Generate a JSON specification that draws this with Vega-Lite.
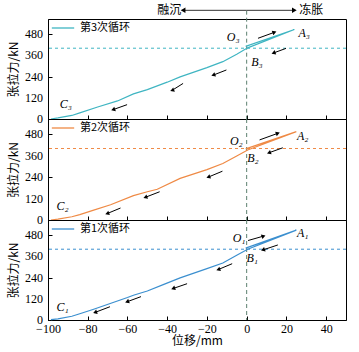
{
  "$schema": "https://vega.github.io/schema/vega-lite/v6.json",
  "padding": {"left": 7, "top": 3, "right": 12, "bottom": 4},
  "background": "white",
  "spacing": 0,
  "bounds": "flush",
  "config": {
    "view": {"stroke": "black", "strokeWidth": 1},
    "axis": {
      "grid": false,
      "labelFont": "Liberation Serif",
      "labelFontSize": 12,
      "labelColor": "black",
      "labelFlush": false,
      "titleFont": "Noto Sans CJK SC",
      "titleFontSize": 12,
      "titleFontWeight": "normal",
      "titleColor": "black",
      "domainColor": "black",
      "tickColor": "black",
      "tickSize": -4,
      "labelPadding": 7
    },
    "legend": {
      "orient": "none",
      "legendX": 3,
      "legendY": -3,
      "padding": 0,
      "symbolType": "stroke",
      "symbolSize": 500,
      "symbolStrokeWidth": 1.3,
      "labelOffset": 5,
      "labelFont": "Noto Sans CJK SC",
      "labelFontSize": 11,
      "labelColor": "black",
      "title": null
    }
  },
  "datasets": {
    "curve": [
      {"cycle": "第3次循环", "k": 1, "x": -0.5, "y": 410},
      {"cycle": "第3次循环", "k": 2, "x": 24, "y": 506},
      {"cycle": "第3次循环", "k": 3, "x": 0.5, "y": 402},
      {"cycle": "第3次循环", "k": 4, "x": -5, "y": 366},
      {"cycle": "第3次循环", "k": 5, "x": -12, "y": 324},
      {"cycle": "第3次循环", "k": 6, "x": -20, "y": 290},
      {"cycle": "第3次循环", "k": 7, "x": -33.5, "y": 238},
      {"cycle": "第3次循环", "k": 8, "x": -40, "y": 208},
      {"cycle": "第3次循环", "k": 9, "x": -50, "y": 166},
      {"cycle": "第3次循环", "k": 10, "x": -57, "y": 142},
      {"cycle": "第3次循环", "k": 11, "x": -65, "y": 102},
      {"cycle": "第3次循环", "k": 12, "x": -75, "y": 68},
      {"cycle": "第3次循环", "k": 13, "x": -84, "y": 35},
      {"cycle": "第3次循环", "k": 14, "x": -88, "y": 20},
      {"cycle": "第3次循环", "k": 15, "x": -95, "y": 6},
      {"cycle": "第3次循环", "k": 16, "x": -98.5, "y": 0},
      {"cycle": "第2次循环", "k": 1, "x": -0.5, "y": 398},
      {"cycle": "第2次循环", "k": 2, "x": 25, "y": 494},
      {"cycle": "第2次循环", "k": 3, "x": 0.5, "y": 392},
      {"cycle": "第2次循环", "k": 4, "x": -5, "y": 358},
      {"cycle": "第2次循环", "k": 5, "x": -12, "y": 316},
      {"cycle": "第2次循环", "k": 6, "x": -20, "y": 282},
      {"cycle": "第2次循环", "k": 7, "x": -33.5, "y": 233},
      {"cycle": "第2次循环", "k": 8, "x": -45, "y": 172},
      {"cycle": "第2次循环", "k": 9, "x": -50, "y": 158},
      {"cycle": "第2次循环", "k": 10, "x": -57, "y": 136},
      {"cycle": "第2次循环", "k": 11, "x": -68.5, "y": 85},
      {"cycle": "第2次循环", "k": 12, "x": -77, "y": 55},
      {"cycle": "第2次循环", "k": 13, "x": -84, "y": 30},
      {"cycle": "第2次循环", "k": 14, "x": -88, "y": 18},
      {"cycle": "第2次循环", "k": 15, "x": -95, "y": 5},
      {"cycle": "第2次循环", "k": 16, "x": -98.5, "y": 0},
      {"cycle": "第1次循环", "k": 1, "x": -0.5, "y": 406},
      {"cycle": "第1次循环", "k": 2, "x": 25, "y": 508},
      {"cycle": "第1次循环", "k": 3, "x": 0.5, "y": 400},
      {"cycle": "第1次循环", "k": 4, "x": -5, "y": 366},
      {"cycle": "第1次循环", "k": 5, "x": -12, "y": 322},
      {"cycle": "第1次循环", "k": 6, "x": -20, "y": 290},
      {"cycle": "第1次循环", "k": 7, "x": -33.5, "y": 238},
      {"cycle": "第1次循环", "k": 8, "x": -42, "y": 200},
      {"cycle": "第1次循环", "k": 9, "x": -50, "y": 164},
      {"cycle": "第1次循环", "k": 10, "x": -57, "y": 140},
      {"cycle": "第1次循环", "k": 11, "x": -60, "y": 127},
      {"cycle": "第1次循环", "k": 12, "x": -77, "y": 61},
      {"cycle": "第1次循环", "k": 13, "x": -84, "y": 35},
      {"cycle": "第1次循环", "k": 14, "x": -88, "y": 21},
      {"cycle": "第1次循环", "k": 15, "x": -95, "y": 6},
      {"cycle": "第1次循环", "k": 16, "x": -98.5, "y": 2}
    ],
    "arrows": [
      {"cycle": "第3次循环", "dir": "down", "x": -60.2, "y": 81, "x2": -67.2, "y2": 53},
      {"cycle": "第3次循环", "dir": "down", "x": -32, "y": 201, "x2": -37.5, "y2": 162},
      {"cycle": "第3次循环", "dir": "down", "x": -10.2, "y": 277, "x2": -16.8, "y2": 248},
      {"cycle": "第3次循环", "dir": "down", "x": 19.8, "y": 399, "x2": 13.5, "y2": 373},
      {"cycle": "第3次循环", "dir": "up", "x": 5.7, "y": 456, "x2": 14, "y2": 490},
      {"cycle": "第2次循环", "dir": "down", "x": -63.5, "y": 67, "x2": -70.2, "y2": 36},
      {"cycle": "第2次循环", "dir": "down", "x": -43.8, "y": 158, "x2": -51, "y2": 127},
      {"cycle": "第2次循环", "dir": "down", "x": -12.2, "y": 273, "x2": -19.3, "y2": 240},
      {"cycle": "第2次循环", "dir": "down", "x": 18.2, "y": 404, "x2": 11.2, "y2": 376},
      {"cycle": "第2次循环", "dir": "up", "x": 6.5, "y": 448, "x2": 15.7, "y2": 485},
      {"cycle": "第1次循环", "dir": "down", "x": -68.8, "y": 75, "x2": -76.3, "y2": 43},
      {"cycle": "第1次循环", "dir": "down", "x": -53.2, "y": 132, "x2": -60.2, "y2": 103},
      {"cycle": "第1次循环", "dir": "down", "x": -30, "y": 205, "x2": -37, "y2": 178},
      {"cycle": "第1次循环", "dir": "down", "x": -7.3, "y": 318, "x2": -14.3, "y2": 285},
      {"cycle": "第1次循环", "dir": "down", "x": 15.7, "y": 424, "x2": 8.2, "y2": 396},
      {"cycle": "第1次循环", "dir": "up", "x": 0.7, "y": 449, "x2": 8.5, "y2": 474}
    ],
    "labels": [
      {"cycle": "第3次循环", "lab": "C₃", "x": -91, "y": 85},
      {"cycle": "第3次循环", "lab": "O₃", "x": -6.8, "y": 461},
      {"cycle": "第3次循环", "lab": "A₃", "x": 29, "y": 486},
      {"cycle": "第3次循环", "lab": "B₃", "x": 5.2, "y": 320},
      {"cycle": "第2次循环", "lab": "C₂", "x": -92.7, "y": 76},
      {"cycle": "第2次循环", "lab": "O₂", "x": -5.2, "y": 440},
      {"cycle": "第2次循环", "lab": "A₂", "x": 28.2, "y": 469},
      {"cycle": "第2次循环", "lab": "B₂", "x": 3.2, "y": 345},
      {"cycle": "第1次循环", "lab": "C₁", "x": -92.7, "y": 76},
      {"cycle": "第1次循环", "lab": "O₁", "x": -3.8, "y": 462},
      {"cycle": "第1次循环", "lab": "A₁", "x": 28.2, "y": 489},
      {"cycle": "第1次循环", "lab": "B₁", "x": 2.8, "y": 350}
    ],
    "yticks": [{"v": 0}, {"v": 120}, {"v": 240}, {"v": 360}, {"v": 480}],
    "hline": [{"y": 400}],
    "vline": [{"x": 0, "ytop": 612, "y0": 0}],
    "top": [
      {"t": "融沉", "x": -39, "y": 614, "ax": -32, "dir": "left"},
      {"t": "冻胀", "x": 32.5, "y": 614, "ax": 24, "dir": "right"}
    ]
  },
  "vconcat": [
    {
      "width": 298, "height": 100,
      "layer": [
        {"data": {"name": "vline"}, "mark": {"type": "rule", "strokeDash": [4, 3], "color": "#5d8070", "strokeWidth": 1},
         "encoding": {"x": {"field": "x", "type": "quantitative"}, "y": {"field": "ytop", "type": "quantitative"}, "y2": {"field": "y0"}}},
        {"data": {"name": "hline"}, "mark": {"type": "rule", "strokeDash": [3, 3], "color": "#3fb5c2", "strokeWidth": 1},
         "encoding": {"y": {"field": "y", "type": "quantitative"}}},
        {"data": {"name": "curve"}, "transform": [{"filter": "datum.cycle === '第3次循环'"}],
         "mark": {"type": "line", "strokeWidth": 1.2},
         "encoding": {
           "x": {"field": "x", "type": "quantitative", "scale": {"domain": [-100, 50], "nice": false, "zero": false},
                 "axis": {"values": [-100, -90, -80, -70, -60, -50, -40, -30, -20, -10, 0, 10, 20, 30, 40], "labels": false, "title": null}},
           "y": {"field": "y", "type": "quantitative", "scale": {"domain": [0, 565], "nice": false},
                 "axis": {"values": [0, 60, 120, 180, 240, 300, 360, 420, 480, 540], "labels": false, "titlePadding": 27, "title": "张拉力/kN"}},
           "order": {"field": "k"},
           "color": {"field": "cycle", "type": "nominal", "scale": {"domain": ["第3次循环"], "range": ["#3fb5c2"]}}
         }},
        {"data": {"name": "yticks"},
         "mark": {"type": "text", "font": "Liberation Serif", "fontSize": 12, "align": "right", "baseline": "middle", "dx": -5, "color": "black"},
         "encoding": {"x": {"datum": -100, "type": "quantitative"}, "y": {"field": "v", "type": "quantitative"}, "text": {"field": "v", "type": "quantitative"}}},
        {"data": {"name": "arrows"}, "transform": [{"filter": "datum.cycle === '第3次循环'"}],
         "mark": {"type": "rule", "color": "black", "strokeWidth": 1},
         "encoding": {"x": {"field": "x", "type": "quantitative"}, "y": {"field": "y", "type": "quantitative"}, "x2": {"field": "x2"}, "y2": {"field": "y2"}}},
        {"data": {"name": "arrows"}, "transform": [{"filter": "datum.cycle === '第3次循环' && datum.dir === 'down'"}],
         "mark": {"type": "point", "shape": "triangle-left", "angle": 340, "filled": true, "size": 22, "color": "black", "opacity": 1},
         "encoding": {"x": {"field": "x2", "type": "quantitative"}, "y": {"field": "y2", "type": "quantitative"}}},
        {"data": {"name": "arrows"}, "transform": [{"filter": "datum.cycle === '第3次循环' && datum.dir === 'up'"}],
         "mark": {"type": "point", "shape": "triangle-right", "angle": 340, "filled": true, "size": 22, "color": "black", "opacity": 1},
         "encoding": {"x": {"field": "x2", "type": "quantitative"}, "y": {"field": "y2", "type": "quantitative"}}},
        {"data": {"name": "labels"}, "transform": [{"filter": "datum.cycle === '第3次循环'"}],
         "mark": {"type": "text", "font": "Liberation Serif", "fontStyle": "italic", "fontSize": 12, "color": "black"},
         "encoding": {"x": {"field": "x", "type": "quantitative"}, "y": {"field": "y", "type": "quantitative"}, "text": {"field": "lab"}}},
        {"data": {"name": "top"},
         "mark": {"type": "text", "font": "Noto Sans CJK SC", "fontSize": 12, "color": "black"},
         "encoding": {"x": {"field": "x", "type": "quantitative"}, "y": {"field": "y", "type": "quantitative"}, "text": {"field": "t"}}},
        {"data": {"name": "top"},
         "mark": {"type": "rule", "color": "#333333", "strokeWidth": 1},
         "encoding": {"x": {"field": "ax", "type": "quantitative"}, "x2": {"datum": 0}, "y": {"field": "y", "type": "quantitative"}}},
        {"data": {"name": "top"}, "transform": [{"filter": "datum.dir === 'left'"}],
         "mark": {"type": "point", "shape": "triangle-left", "filled": true, "size": 30, "color": "black", "opacity": 1},
         "encoding": {"x": {"field": "ax", "type": "quantitative"}, "y": {"field": "y", "type": "quantitative"}}},
        {"data": {"name": "top"}, "transform": [{"filter": "datum.dir === 'right'"}],
         "mark": {"type": "point", "shape": "triangle-right", "filled": true, "size": 30, "color": "black", "opacity": 1},
         "encoding": {"x": {"field": "ax", "type": "quantitative"}, "y": {"field": "y", "type": "quantitative"}}}
      ]
    },
    {
      "width": 298, "height": 101,
      "layer": [
        {"data": {"name": "vline"}, "mark": {"type": "rule", "strokeDash": [4, 3], "color": "#5d8070", "strokeWidth": 1},
         "encoding": {"x": {"field": "x", "type": "quantitative"}}},
        {"data": {"name": "hline"}, "mark": {"type": "rule", "strokeDash": [3, 3], "color": "#ef8a45", "strokeWidth": 1},
         "encoding": {"y": {"field": "y", "type": "quantitative"}}},
        {"data": {"name": "curve"}, "transform": [{"filter": "datum.cycle === '第2次循环'"}],
         "mark": {"type": "line", "strokeWidth": 1.2},
         "encoding": {
           "x": {"field": "x", "type": "quantitative", "scale": {"domain": [-100, 50], "nice": false, "zero": false},
                 "axis": {"values": [-100, -90, -80, -70, -60, -50, -40, -30, -20, -10, 0, 10, 20, 30, 40], "labels": false, "title": null}},
           "y": {"field": "y", "type": "quantitative", "scale": {"domain": [0, 565], "nice": false},
                 "axis": {"values": [0, 60, 120, 180, 240, 300, 360, 420, 480, 540], "labels": false, "titlePadding": 27, "title": "张拉力/kN"}},
           "order": {"field": "k"},
           "color": {"field": "cycle", "type": "nominal", "scale": {"domain": ["第2次循环"], "range": ["#ef8a45"]}}
         }},
        {"data": {"name": "yticks"},
         "mark": {"type": "text", "font": "Liberation Serif", "fontSize": 12, "align": "right", "baseline": "middle", "dx": -5, "color": "black"},
         "encoding": {"x": {"datum": -100, "type": "quantitative"}, "y": {"field": "v", "type": "quantitative"}, "text": {"field": "v", "type": "quantitative"}}},
        {"data": {"name": "arrows"}, "transform": [{"filter": "datum.cycle === '第2次循环'"}],
         "mark": {"type": "rule", "color": "black", "strokeWidth": 1},
         "encoding": {"x": {"field": "x", "type": "quantitative"}, "y": {"field": "y", "type": "quantitative"}, "x2": {"field": "x2"}, "y2": {"field": "y2"}}},
        {"data": {"name": "arrows"}, "transform": [{"filter": "datum.cycle === '第2次循环' && datum.dir === 'down'"}],
         "mark": {"type": "point", "shape": "triangle-left", "angle": 340, "filled": true, "size": 22, "color": "black", "opacity": 1},
         "encoding": {"x": {"field": "x2", "type": "quantitative"}, "y": {"field": "y2", "type": "quantitative"}}},
        {"data": {"name": "arrows"}, "transform": [{"filter": "datum.cycle === '第2次循环' && datum.dir === 'up'"}],
         "mark": {"type": "point", "shape": "triangle-right", "angle": 340, "filled": true, "size": 22, "color": "black", "opacity": 1},
         "encoding": {"x": {"field": "x2", "type": "quantitative"}, "y": {"field": "y2", "type": "quantitative"}}},
        {"data": {"name": "labels"}, "transform": [{"filter": "datum.cycle === '第2次循环'"}],
         "mark": {"type": "text", "font": "Liberation Serif", "fontStyle": "italic", "fontSize": 12, "color": "black"},
         "encoding": {"x": {"field": "x", "type": "quantitative"}, "y": {"field": "y", "type": "quantitative"}, "text": {"field": "lab"}}}
      ]
    },
    {
      "width": 298, "height": 100,
      "layer": [
        {"data": {"name": "vline"}, "mark": {"type": "rule", "strokeDash": [4, 3], "color": "#5d8070", "strokeWidth": 1},
         "encoding": {"x": {"field": "x", "type": "quantitative"}}},
        {"data": {"name": "hline"}, "mark": {"type": "rule", "strokeDash": [3, 3], "color": "#3b8fcf", "strokeWidth": 1},
         "encoding": {"y": {"field": "y", "type": "quantitative"}}},
        {"data": {"name": "curve"}, "transform": [{"filter": "datum.cycle === '第1次循环'"}],
         "mark": {"type": "line", "strokeWidth": 1.2},
         "encoding": {
           "x": {"field": "x", "type": "quantitative", "scale": {"domain": [-100, 50], "nice": false, "zero": false},
                 "axis": {"values": [-100, -90, -80, -70, -60, -50, -40, -30, -20, -10, 0, 10, 20, 30, 40], "labelOverlap": false, "labelExpr": "datum.value % 20 === 0 ? datum.label : ''", "title": "位移/mm", "titlePadding": 1}},
           "y": {"field": "y", "type": "quantitative", "scale": {"domain": [0, 565], "nice": false},
                 "axis": {"values": [0, 60, 120, 180, 240, 300, 360, 420, 480, 540], "labels": false, "titlePadding": 27, "title": "张拉力/kN"}},
           "order": {"field": "k"},
           "color": {"field": "cycle", "type": "nominal", "scale": {"domain": ["第1次循环"], "range": ["#3b8fcf"]}}
         }},
        {"data": {"name": "yticks"},
         "mark": {"type": "text", "font": "Liberation Serif", "fontSize": 12, "align": "right", "baseline": "middle", "dx": -5, "color": "black"},
         "encoding": {"x": {"datum": -100, "type": "quantitative"}, "y": {"field": "v", "type": "quantitative"}, "text": {"field": "v", "type": "quantitative"}}},
        {"data": {"name": "arrows"}, "transform": [{"filter": "datum.cycle === '第1次循环'"}],
         "mark": {"type": "rule", "color": "black", "strokeWidth": 1},
         "encoding": {"x": {"field": "x", "type": "quantitative"}, "y": {"field": "y", "type": "quantitative"}, "x2": {"field": "x2"}, "y2": {"field": "y2"}}},
        {"data": {"name": "arrows"}, "transform": [{"filter": "datum.cycle === '第1次循环' && datum.dir === 'down'"}],
         "mark": {"type": "point", "shape": "triangle-left", "angle": 340, "filled": true, "size": 22, "color": "black", "opacity": 1},
         "encoding": {"x": {"field": "x2", "type": "quantitative"}, "y": {"field": "y2", "type": "quantitative"}}},
        {"data": {"name": "arrows"}, "transform": [{"filter": "datum.cycle === '第1次循环' && datum.dir === 'up'"}],
         "mark": {"type": "point", "shape": "triangle-right", "angle": 340, "filled": true, "size": 22, "color": "black", "opacity": 1},
         "encoding": {"x": {"field": "x2", "type": "quantitative"}, "y": {"field": "y2", "type": "quantitative"}}},
        {"data": {"name": "labels"}, "transform": [{"filter": "datum.cycle === '第1次循环'"}],
         "mark": {"type": "text", "font": "Liberation Serif", "fontStyle": "italic", "fontSize": 12, "color": "black"},
         "encoding": {"x": {"field": "x", "type": "quantitative"}, "y": {"field": "y", "type": "quantitative"}, "text": {"field": "lab"}}}
      ]
    }
  ],
  "resolve": {"scale": {"color": "independent"}, "legend": {"color": "independent"}}
}
